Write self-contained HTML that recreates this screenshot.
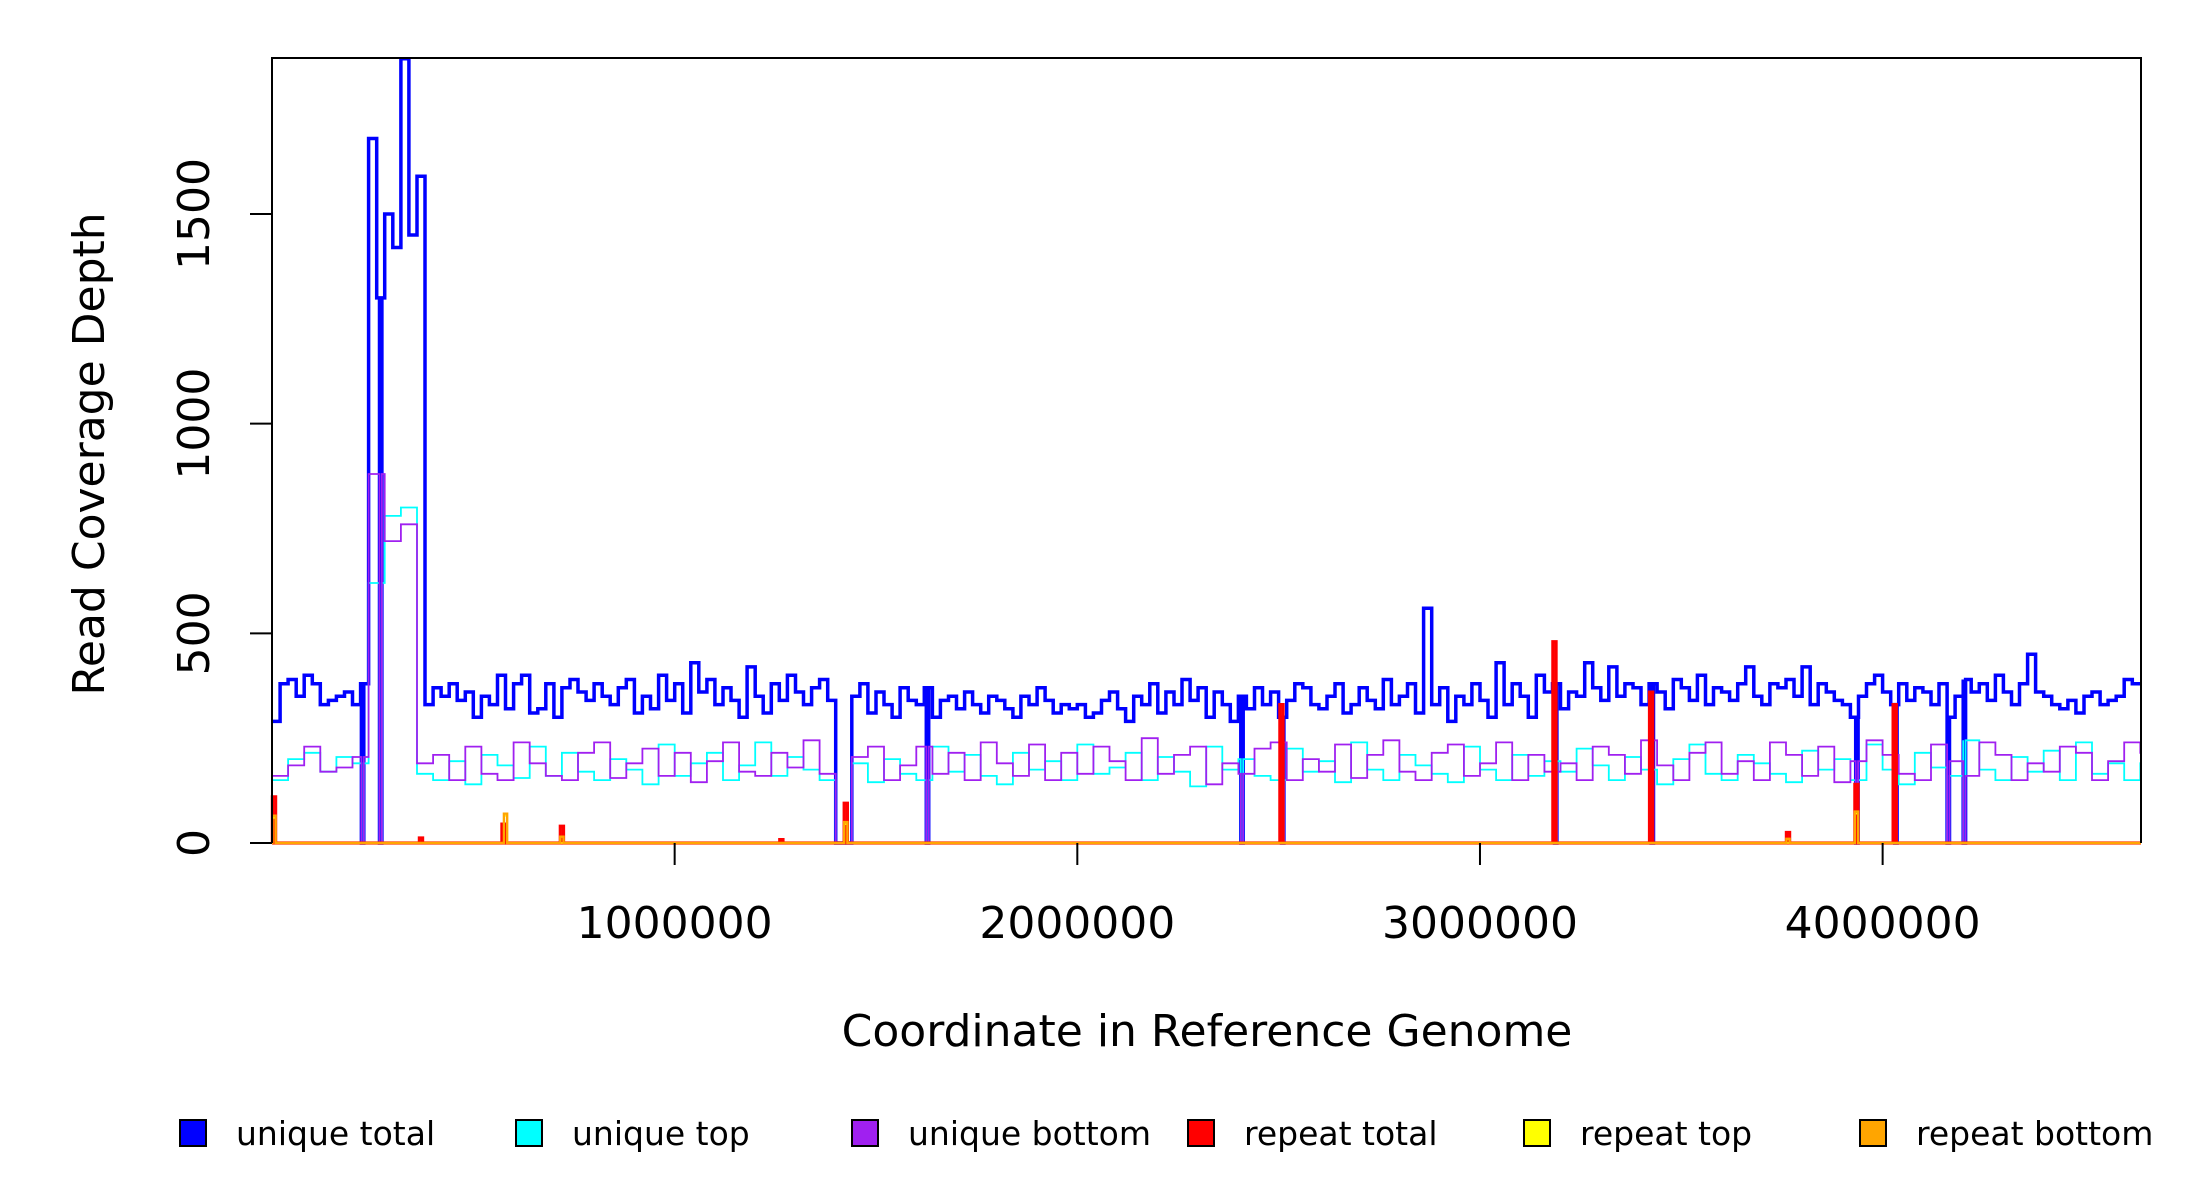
<!DOCTYPE html>
<html><head><meta charset="utf-8"><style>
html,body{margin:0;padding:0;background:#fff}
svg{display:block;font-family:"DejaVu Sans","Liberation Sans",sans-serif}
</style></head><body>
<svg id="chart" width="2200" height="1200" viewBox="0 0 2200 1200" xmlns="http://www.w3.org/2000/svg">
<g id="marks"></g>
<g id="axes"></g>
</svg>
<script>
const genomeLength = 4641652;
const yMax = 1872;
const totalBin = 20000;
const strandBin = 40000;
const uniqueTotal = [290,380,390,350,400,380,330,340,350,360,330,380,1680,1300,1500,1420,1870,1450,1590,
330,370,350,380,340,360,300,350,330,400,320,380,400,310,320,380,300,370,390,360,340,
380,350,330,370,390,310,350,320,400,340,380,310,430,360,390,330,370,340,300,420,
350,310,380,340,400,360,330,370,390,340,0,0,350,380,310,360,330,300,370,340,
330,370,300,340,350,320,360,330,310,350,340,320,300,350,330,370,340,310,330,320,
330,300,310,340,360,320,290,350,330,380,310,360,330,390,340,370,300,360,330,290,
350,320,370,330,360,300,340,380,370,330,320,350,380,310,330,370,340,320,390,330,
350,380,310,560,330,370,290,350,330,380,340,300,430,330,380,350,300,400,360,380,
320,360,350,430,370,340,420,350,380,370,330,380,360,320,390,370,340,400,330,370,
360,340,380,420,350,330,380,370,390,350,420,330,380,360,340,330,300,350,380,400,
360,330,380,340,370,360,330,380,300,350,390,360,380,340,400,360,330,380,450,360,
350,330,320,340,310,350,360,330,340,350,390,380,380];
const uniqueTop = [150,200,215,170,205,190,620,780,800,165,150,195,140,210,185,155,230,160,215,170,
150,200,175,140,235,160,190,215,150,185,240,160,205,175,150,0,190,145,200,165,
150,230,170,210,160,140,215,175,195,150,235,165,180,215,150,205,170,135,230,175,
200,160,150,225,170,195,145,240,175,150,210,185,165,145,230,175,150,210,160,195,
170,225,185,150,205,175,140,200,235,165,150,210,190,165,145,220,175,200,150,235,
175,140,215,180,160,245,175,150,205,170,220,150,240,165,190,150,190];
const uniqueBottom = [160,185,230,170,180,205,880,720,760,190,210,150,230,165,150,240,190,160,150,215,
240,155,190,225,160,215,145,195,240,170,160,215,180,245,165,0,205,230,150,185,
230,165,215,150,240,190,160,235,150,215,165,230,195,150,250,165,210,230,140,190,
165,225,240,150,200,170,235,155,210,245,170,150,215,235,160,190,240,150,210,170,
190,150,230,210,165,245,185,150,215,240,165,195,150,240,210,160,230,145,195,245,
210,165,150,235,195,160,240,210,150,190,170,230,215,150,195,240,215];
const dropStarts = [222000,267000,1625000,2406000,2507000,3185000,3425000,3933000,4030000,4160000,4200000];
const repeatTotalPos = [5000,370000,575000,720000,1265000,1425000,2507000,3185000,3425000,3765000,3935000,4030000];
const repeatTotalVal = [110,12,45,40,8,95,330,480,360,25,140,330];
const repeatTopPos = [5000,580000,1425000,3935000];
const repeatTopVal = [60,65,45,70];
const repeatBottomPos = [5000,580000,720000,1425000,3765000,3935000];
const repeatBottomVal = [65,70,15,50,10,75];
const xTicks = [1000000,2000000,3000000,4000000];
const yTicks = [0,500,1000,1500];

const L=272,R=2141,T=58,B=843;
const xs = v => L + v/genomeLength*(R-L);
const ys = v => B - v/yMax*(B-T);
const NS="http://www.w3.org/2000/svg";
const marks=document.getElementById('marks'), axes=document.getElementById('axes');
function mk(tag,attrs,parent){const e=document.createElementNS(NS,tag);for(const k in attrs)e.setAttribute(k,attrs[k]);parent.appendChild(e);return e;}
const dropW=6000;
function stepPath(vals,bin){
  let pts=[];
  vals.forEach((v,i)=>{
    const s=i*bin,e=Math.min((i+1)*bin,genomeLength);
    const ds=dropStarts.filter(d=>d>=s&&d<e);
    let cur=s;
    ds.forEach(d=>{pts.push([cur,v],[d,v],[d,0],[d+dropW,0]);cur=d+dropW;});
    pts.push([cur,v],[e,v]);
  });
  return 'M'+pts.map(p=>xs(p[0]).toFixed(1)+','+ys(p[1]).toFixed(1)).join('L');
}
let p;
p=mk('path',{d:stepPath(uniqueTotal,totalBin),fill:'none',stroke:'#0000ff','stroke-width':3.5},marks);


p=mk('path',{d:stepPath(uniqueTop,strandBin),fill:'none',stroke:'#00ffff','stroke-width':1.8},marks);


p=mk('path',{d:stepPath(uniqueBottom,strandBin),fill:'none',stroke:'#a020f0','stroke-width':1.8},marks);


function spikes(pos,val,color,name,w){
  let d='M'+xs(0)+','+ys(0);
  pos.forEach((x,i)=>{d+='L'+xs(x-4000)+','+ys(0)+'L'+xs(x-4000)+','+ys(val[i])+'L'+xs(x+4000)+','+ys(val[i])+'L'+xs(x+4000)+','+ys(0);});
  d+='L'+xs(genomeLength)+','+ys(0);
  const e=mk('path',{d:d,fill:'none',stroke:color,'stroke-width':w},marks);
  
  
}
spikes(repeatTotalPos,repeatTotalVal,'#ff0000','repeat-total-line',3.2);
spikes(repeatTopPos,repeatTopVal,'#ffff00','repeat-top-line',1.8);
spikes(repeatBottomPos,repeatBottomVal,'#ffa500','repeat-bottom-line',2.4);

mk('path',{d:`M${L},${B}L${L},${T}L${R},${T}L${R},${B}`,fill:'none',stroke:'#000','stroke-width':2},axes);
yTicks.forEach(t=>{
  mk('line',{x1:L-22,x2:L,y1:ys(t),y2:ys(t),stroke:'#000','stroke-width':2},axes);
  const tx=mk('text',{x:0,y:0,transform:`translate(209,${ys(t)}) rotate(-90)`,'text-anchor':'middle','font-size':44},axes);
  tx.textContent=t;
  
  
});
xTicks.forEach(t=>{
  mk('line',{x1:xs(t),x2:xs(t),y1:B,y2:B+22,stroke:'#000','stroke-width':2},axes);
  const tx=mk('text',{x:xs(t),y:938,'text-anchor':'middle','font-size':44},axes);
  tx.textContent=t;
  
  
});
let t1=mk('text',{x:1207,y:1046,'text-anchor':'middle','font-size':44},axes);
t1.textContent='Coordinate in Reference Genome';


let t2=mk('text',{x:0,y:0,transform:'translate(104,454) rotate(-90)','text-anchor':'middle','font-size':44},axes);
t2.textContent='Read Coverage Depth';


const legendLabels=['unique total','unique top','unique bottom','repeat total','repeat top','repeat bottom'];
const legendColors=['#0000ff','#00ffff','#a020f0','#ff0000','#ffff00','#ffa500'];
legendLabels.forEach((lab,i)=>{
  const cx=193+i*336;
  const g=mk('g',{},axes);
  
  
  mk('rect',{x:cx-13,y:1120,width:26,height:26,fill:legendColors[i],stroke:'#000','stroke-width':2},g);
  const tx=mk('text',{x:cx+43,y:1145,'font-size':33},g);
  tx.textContent=lab;
});
</script>
</body></html>
